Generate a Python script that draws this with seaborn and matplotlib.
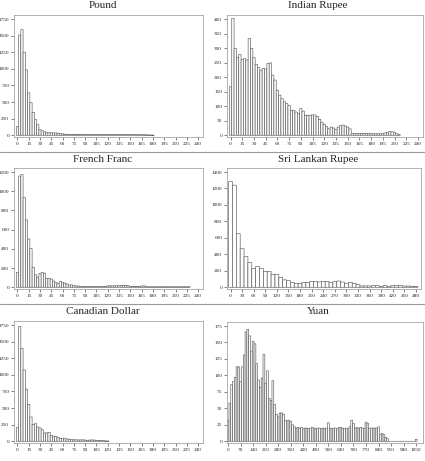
import numpy as np
import pandas as pd
import matplotlib
matplotlib.use("Agg")
import matplotlib.pyplot as plt
import seaborn as sns
from matplotlib.lines import Line2D

sns.set_style("white")
plt.rcParams['font.family'] = ['Liberation Serif', 'DejaVu Serif']

# counts per bin, bins centred on multiples of the bin width
pound_width = 3
pound_counts = [130, 1510, 1590, 1250, 985, 640, 490, 345, 235, 160, 85, 68, 52, 42, 38, 36, 35, 34, 32, 26,
                20, 16, 15, 14, 14, 13, 13, 13, 12, 12, 12, 12, 12, 12, 12, 12, 12, 11, 11, 12, 12, 12, 12, 11,
                11, 11, 11, 10, 10, 10, 10, 9, 9, 8, 8, 7, 7, 6, 5, 3, 2]

rupee_width = 3
rupee_counts = [167, 402, 299, 268, 278, 261, 264, 259, 333, 299, 267, 244, 233, 224, 230, 228, 247, 249, 207, 190,
                155, 138, 126, 115, 109, 103, 86, 86, 80, 75, 92, 83, 69, 69, 69, 70, 70, 65, 55, 45,
                38, 30, 22, 28, 25, 20, 28, 33, 35, 32, 28, 22, 6, 6, 6, 6, 6, 6, 6, 6,
                6, 5, 5, 5, 5, 6, 8, 10, 13, 12, 9, 5, 2]

franc_width = 3
franc_counts = [154, 1158, 1173, 934, 702, 503, 402, 206, 130, 106, 145, 154, 147, 94, 94, 86, 65, 51, 40, 60,
                51, 43, 34, 24, 24, 17, 14, 12, 10, 10, 9, 9, 9, 8, 8, 8, 8, 8, 8, 10,
                15, 15, 15, 15, 15, 18, 18, 20, 20, 18, 10, 10, 10, 10, 10, 12, 15, 8, 5, 5,
                5, 5, 5, 5, 5, 5, 5, 5, 5, 5, 5, 5, 5, 5, 5, 5, 5]

lanka_width = 10
lanka_counts = [1285, 1240, 650, 468, 372, 300, 230, 252, 228, 193, 193, 158, 155, 121, 90, 80, 60, 48, 48, 56,
                60, 72, 72, 65, 72, 72, 56, 68, 76, 64, 44, 60, 48, 32, 16, 16, 16, 20, 20, 12,
                20, 12, 20, 20, 20, 15, 15, 12, 12]

cad_width = 3
cad_counts = [205, 1730, 1400, 1075, 785, 555, 365, 255, 265, 215, 200, 175, 125, 125, 135, 90, 75, 70, 60, 45,
              45, 40, 35, 30, 25, 22, 22, 20, 20, 22, 18, 15, 18, 20, 18, 15, 12, 10, 8, 5, 3]

yuan_width = 10
yuan_counts = [32, 58, 86, 91, 97, 113, 113, 91, 113, 131, 166, 170, 160, 136, 152, 148, 118, 93, 82, 96,
               132, 88, 107, 65, 62, 92, 56, 41, 37, 43, 43, 41, 32, 31, 32, 30,
               25, 22, 20, 21, 20, 21, 19, 20, 20, 19, 20, 21, 20, 19, 20, 20, 19, 20, 19, 20,
               28, 20, 19, 20, 20, 19, 21, 21, 20, 19, 20, 19, 22, 32, 27, 20, 21, 19, 21, 20,
               20, 29, 27, 20, 20, 20, 20, 20, 22, 10, 12, 10, 6, 4,
               0, 0, 0, 0, 0, 0, 0, 0, 0, 0, 0, 0, 0, 0, 0, 3]

titles = ["Pound", "Indian Rupee", "French Franc", "Sri Lankan Rupee", "Canadian Dollar", "Yuan"]
x_tick_steps = [15, 15, 15, 30, 15, 70]
x_tick_max = [240, 240, 240, 480, 240, 1050]
y_tick_steps = [250, 50, 200, 200, 250, 25]
y_tick_max = [1750, 400, 1200, 1400, 1750, 175]

panels = [
    (pound_counts, pound_width), (rupee_counts, rupee_width),
    (franc_counts, franc_width), (lanka_counts, lanka_width),
    (cad_counts, cad_width), (yuan_counts, yuan_width),
]

W, H = 425, 461
fig = plt.figure(figsize=(W / 100, H / 100), dpi=100)

# axes boxes in pixels: left, top, right, bottom
boxes = [(14, 15, 203, 137), (227, 15, 423, 137),
         (14, 168, 203, 289), (227, 168, 421, 289),
         (14, 321, 203, 443), (227, 322, 423, 443)]
title_y = [6, 6, 159, 159, 312, 312]
title_x = [103, 318, 103, 318, 103, 318]

for i, (counts, width) in enumerate(panels):
    l, t, r, b = boxes[i]
    ax = fig.add_axes([l / W, 1 - b / H, (r - l) / W, (b - t) / H])
    centers = np.arange(len(counts)) * width
    df = pd.DataFrame({"value": centers, "count": counts})
    sns.histplot(data=df, x="value", weights="count", binwidth=width,
                 binrange=(-width / 2, len(counts) * width - width / 2), color="white",
                 edgecolor="0.35", linewidth=0.45, alpha=1, snap=False, ax=ax)

    xmax = x_tick_max[i]
    ax.set_xticks(np.arange(0, xmax + 1, x_tick_steps[i]))
    if i == 5:
        ax.set_xlim(-6, 1088)
    else:
        ax.set_xlim(-xmax * 0.019, xmax * 1.027)
    ax.set_yticks(np.arange(0, y_tick_max[i] + 1, y_tick_steps[i]))
    ax.set_ylim(-y_tick_max[i] * 0.015, y_tick_max[i] * 1.035)
    ax.set_xlabel("")
    ax.set_ylabel("")
    ax.tick_params(left=True, bottom=True, direction="out", length=2, width=0.5,
                   color="0.3", labelsize=3.8, pad=1.5)
    for s in ax.spines.values():
        s.set_color("0.65")
        s.set_linewidth(0.6)
    fig.text(title_x[i] / W, 1 - title_y[i] / H, titles[i], ha="center", va="center", fontsize=8)

# separator lines between rows
for y in [152, 304]:
    fig.add_artist(Line2D([0, 1], [1 - y / H, 1 - y / H], transform=fig.transFigure, color="0.6", lw=0.8))

fig.savefig("out.png", dpi=100)
